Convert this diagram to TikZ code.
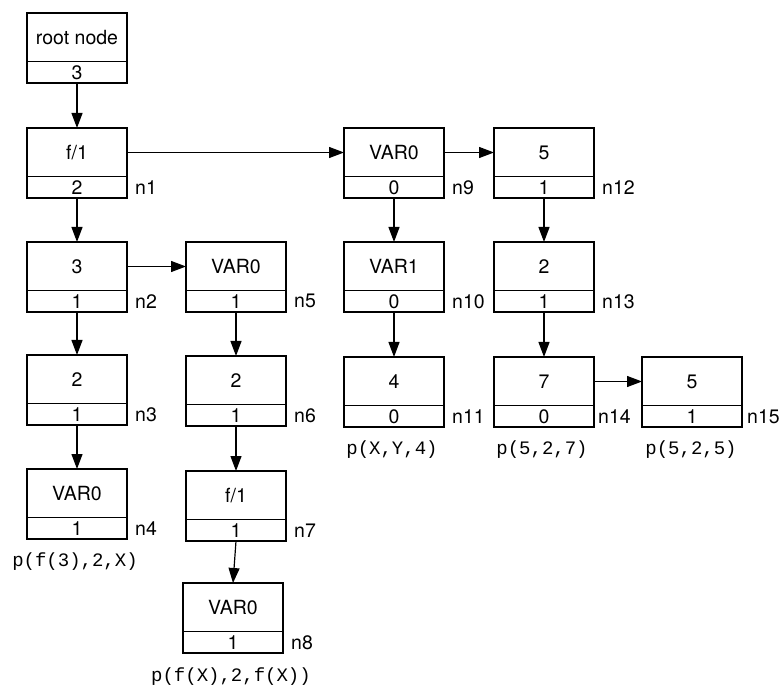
\documentclass[tikz,border=0pt]{standalone}
\usepackage{fontspec}
\setmainfont{TeX Gyre Heros}
\newfontfamily\codefont{Liberation Mono}
\usetikzlibrary{arrows.meta}
\tikzset{
  box/.style={draw, line width=1.2pt, minimum width=100pt, minimum height=70pt, inner sep=0pt, outer sep=0pt},
  txt/.style={font=\fontsize{19.5}{21}\selectfont, inner sep=0pt},
  code/.style={font=\codefont\fontsize{19}{21}\selectfont, inner sep=0pt},
  arr/.style={line width=1.2pt, -{Triangle[length=15pt,width=11pt]}},
}
\newcommand\recbox[7][8pt]{%
  \node[box] (#2) at (#3,#4) {};
  \draw[line width=1.1pt] ([yshift=21.5pt]#2.south west) -- ([yshift=21.5pt]#2.south east);
  \node[txt] (#2t) at ([yshift=-24.5pt]#2.north) {#5};
  \node[txt] (#2b) at ([yshift=10.75pt]#2.south) {#6};
  \node[txt, anchor=west] (#2l) at ([xshift=#1,yshift=10.75pt]#2.south east) {#7};
}
\begin{document}
\begin{tikzpicture}[x=1pt,y=1pt]
\useasboundingbox (0,0) rectangle (781,686);
\recbox{root}{77}{638}{root node}{3}{}
\recbox{n1}{77}{523}{f/1}{2}{n1}
\recbox{n2}{77}{409}{3}{1}{n2}
\recbox{n3}{77}{296}{2}{1}{n3}
\recbox{n4}{77}{182}{VAR0}{1}{n4}
\recbox{n5}{236}{409}{VAR0}{1}{n5}
\recbox{n6}{236}{295}{2}{1}{n6}
\recbox{n7}{236}{180}{f/1}{1}{n7}
\recbox{n8}{233}{68}{VAR0}{1}{n8}
\recbox{n9}{394}{523}{VAR0}{0}{n9}
\recbox{n10}{394}{409}{VAR1}{0}{n10}
\recbox{n11}{394}{294}{4}{0}{n11}
\recbox{n12}{544}{523}{5}{1}{n12}
\recbox{n13}{544}{409}{2}{1}{n13}
\recbox[4pt]{n14}{544}{294}{7}{0}{n14}
\recbox[5pt]{n15}{692}{294}{5}{1}{n15}

\node[code] (p4) at (75,124) {p(f(3),2,X)};
\node[code] (p8) at (231,9) {p(f(X),2,f(X))};
\node[code] (p11) at (392,236) {p(X,Y,4)};
\node[code] (p14) at (542,236) {p(5,2,7)};
\node[code] (p15) at (691,236) {p(5,2,5)};

\draw[arr] (root.south) -- (n1.north);
\draw[arr] (n1.south) -- (n2.north);
\draw[arr] (n2.south) -- (n3.north);
\draw[arr] (n3.south) -- (n4.north);
\draw[arr] (n5.south) -- (n6.north);
\draw[arr] (n6.south) -- (n7.north);
\draw[arr] (n7.south) -- (n8.north);
\draw[arr] (n9.south) -- (n10.north);
\draw[arr] (n10.south) -- (n11.north);
\draw[arr] (n12.south) -- (n13.north);
\draw[arr] (n13.south) -- (n14.north);
\draw[arr] ([yshift=10.5pt]n1.east) -- ([yshift=10.5pt]n9.west);
\draw[arr] ([yshift=10.5pt]n2.east) -- ([yshift=10.5pt]n5.west);
\draw[arr] ([yshift=10.5pt]n9.east) -- ([yshift=10.5pt]n12.west);
\draw[arr] ([yshift=10.5pt]n14.east) -- ([yshift=10.5pt]n15.west);
\end{tikzpicture}
\end{document}
